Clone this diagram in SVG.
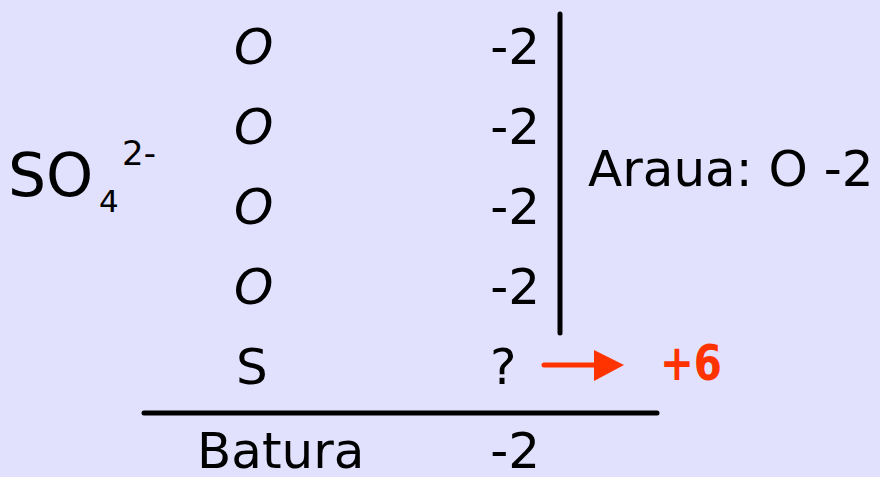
<svg xmlns="http://www.w3.org/2000/svg" width="880" height="477" viewBox="0 0 880 477">
<style>
.t{font-family:"DejaVu Sans","Liberation Sans",sans-serif;fill:#000;font-size:50px}
.o{font-style:italic}
.r{fill:#FF3300;font-weight:bold}
.ln{stroke:#000;stroke-width:5;stroke-linecap:round;fill:none}
</style>
<rect width="880" height="477" fill="#E1E1FE"/>
<g id="formula">
<text class="t" x="8" y="196" style="font-size:60px">SO</text>
<text class="t" x="99" y="212" style="font-size:31px">4</text>
<text class="t" x="122" y="165" style="font-size:34px">2-</text>
</g>
<g id="col-atoms">
<text class="t o" x="234" y="64">O</text>
<text class="t o" x="234" y="144">O</text>
<text class="t o" x="234" y="224">O</text>
<text class="t o" x="234" y="304">O</text>
<text class="t" x="236" y="384">S</text>
</g>
<g id="col-values">
<text class="t" x="540" y="64" text-anchor="end">-2</text>
<text class="t" x="540" y="144" text-anchor="end">-2</text>
<text class="t" x="540" y="224" text-anchor="end">-2</text>
<text class="t" x="540" y="304" text-anchor="end">-2</text>
<text class="t" x="490" y="384">?</text>
</g>
<g id="rule">
<text class="t" x="588" y="186">Araua: O -2</text>
</g>
<g id="total">
<text class="t" x="197" y="468">Batura</text>
<text class="t" x="540" y="468" text-anchor="end">-2</text>
</g>
<g id="result">
<text class="t r" x="660" y="380" style="font-size:50px" textLength="62" lengthAdjust="spacingAndGlyphs">+6</text>
</g>
<g id="connectors">
<line class="ln" x1="560" y1="14" x2="560" y2="333"/>
<line class="ln" x1="144" y1="413" x2="657" y2="413"/>
<line x1="544" y1="365" x2="598" y2="365" stroke="#FF3300" stroke-width="5" stroke-linecap="round"/>
<polygon points="594,350 624,365 594,381" fill="#FF3300"/>
</g>
</svg>
